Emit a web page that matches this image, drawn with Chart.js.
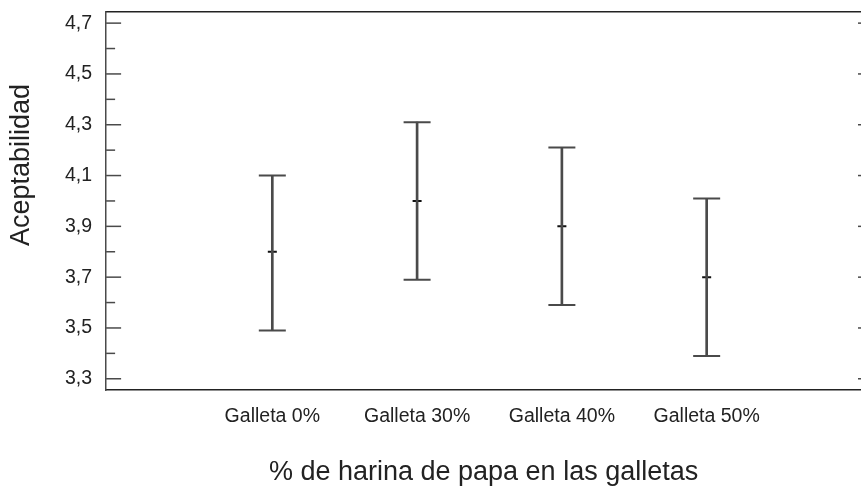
<!DOCTYPE html>
<html lang="es">

<head>
  <meta charset="UTF-8">
  <title>Aceptabilidad</title>
  <style>
    html, body { margin: 0; padding: 0; background: #fff; }
    .grafico { position: relative; width: 861px; height: 490px; }
  </style>
</head>

<body>
  <div class="grafico">
    <canvas id="myChart"></canvas>
  </div>

  <script src="https://cdn.jsdelivr.net/npm/chart.js"></script>
  <script>
    // datos
    const categorias = ['Galleta 0%', 'Galleta 30%', 'Galleta 40%', 'Galleta 50%'];
    const posiciones = [1, 2, 3, 4];
    const medias = [3.80, 4.00, 3.90, 3.70];
    const limInferior = [3.49, 3.69, 3.59, 3.39];
    const limSuperior = [4.10, 4.31, 4.21, 4.01];
    const ticksY = [3.3, 3.5, 3.7, 3.9, 4.1, 4.3, 4.5, 4.7];

    const fuente = '"Liberation Sans", Arial, sans-serif';
    const colorTexto = '#222';
    const colorLinea = '#4a4a4a';

    function coma(v) {
      return v.toFixed(1).replace('.', ',');
    }

    // marco superior, ticks interiores y titulo del eje y
    const marco = {
      id: 'marco',
      afterDraw(chart) {
        const ctx = chart.ctx;
        const area = chart.chartArea;
        const y = chart.scales.y;
        ctx.save();
        ctx.strokeStyle = '#222';
        ctx.lineWidth = 1.5;
        ctx.beginPath();
        ctx.moveTo(area.left, area.top);
        ctx.lineTo(area.right, area.top);
        ctx.stroke();

        ctx.strokeStyle = colorLinea;
        ctx.lineWidth = 1.5;
        y.ticks.forEach(function (t) {
          const py = y.getPixelForValue(t.value);
          const mayor = ticksY.some(function (m) { return Math.abs(m - t.value) < 1e-6; });
          ctx.beginPath();
          ctx.moveTo(area.left, py);
          ctx.lineTo(area.left + (mayor ? 15 : 9), py);
          ctx.stroke();
          if (mayor) {
            ctx.beginPath();
            ctx.moveTo(area.right - 3, py);
            ctx.lineTo(area.right, py);
            ctx.stroke();
          }
        });

        ctx.fillStyle = colorTexto;
        ctx.font = '27px ' + fuente;
        ctx.textAlign = 'center';
        ctx.textBaseline = 'middle';
        ctx.translate(22, area.top + 0.405 * (area.bottom - area.top));
        ctx.rotate(-Math.PI / 2);
        ctx.fillText('Aceptabilidad', 0, 0);
        ctx.restore();
      }
    };

    const config = {
      type: 'bar',
      data: {
        datasets: [
          {
            label: 'intervalo',
            data: posiciones.map(function (p, i) { return { x: p, y: [limInferior[i], limSuperior[i]] }; }),
            backgroundColor: colorLinea,
            barThickness: 2
          },
          {
            type: 'scatter',
            label: 'limite superior',
            data: posiciones.map(function (p, i) { return { x: p, y: limSuperior[i] }; }),
            pointStyle: 'line',
            radius: 13.5,
            borderColor: colorLinea,
            borderWidth: 2
          },
          {
            type: 'scatter',
            label: 'limite inferior',
            data: posiciones.map(function (p, i) { return { x: p, y: limInferior[i] }; }),
            pointStyle: 'line',
            radius: 13.5,
            borderColor: colorLinea,
            borderWidth: 2
          },
          {
            type: 'scatter',
            label: 'media',
            data: posiciones.map(function (p, i) { return { x: p, y: medias[i] }; }),
            pointStyle: 'line',
            radius: 4.5,
            borderColor: '#111',
            borderWidth: 2
          }
        ]
      },
      options: {
        responsive: true,
        maintainAspectRatio: false,
        animation: false,
        layout: { autoPadding: false, padding: { left: 65, top: 11.5, right: 0, bottom: 0 } },
        plugins: {
          legend: { display: false },
          tooltip: { enabled: false }
        },
        scales: {
          x: {
            type: 'linear',
            min: -0.148,
            max: 5.066,
            offset: false,
            grid: { display: true, drawOnChartArea: false, drawTicks: true, tickLength: 15, tickColor: 'rgba(0,0,0,0)' },
            border: { display: true, color: '#222', width: 1.5 },
            ticks: {
              stepSize: 1,
              includeBounds: false,
              autoSkip: false,
              maxRotation: 0,
              padding: 0,
              color: colorTexto,
              font: { family: fuente, size: 19.5 },
              callback: function (v) {
                const i = posiciones.indexOf(Math.round(v));
                return (i >= 0 && Math.abs(v - posiciones[i]) < 1e-6) ? categorias[i] : null;
              }
            },
            title: {
              display: true,
              text: '% de harina de papa en las galletas',
              color: colorTexto,
              font: { family: fuente, size: 27 },
              padding: { top: 28, bottom: 1 }
            }
          },
          y: {
            min: 3.255,
            max: 4.745,
            grid: { display: true, drawOnChartArea: false, drawTicks: true, tickLength: 14, tickColor: 'rgba(0,0,0,0)' },
            border: { display: true, color: colorLinea, width: 1.5 },
            ticks: {
              stepSize: 0.1,
              includeBounds: false,
              autoSkip: false,
              padding: 0,
              color: colorTexto,
              font: { family: fuente, size: 19.5 },
              callback: function (v) {
                const m = ticksY.find(function (t) { return Math.abs(t - v) < 1e-6; });
                return m !== undefined ? coma(m) : '';
              }
            }
          }
        }
      },
      plugins: [marco]
    };

    let myChart = new Chart(document.getElementById('myChart'), config);
  </script>
</body>

</html>
